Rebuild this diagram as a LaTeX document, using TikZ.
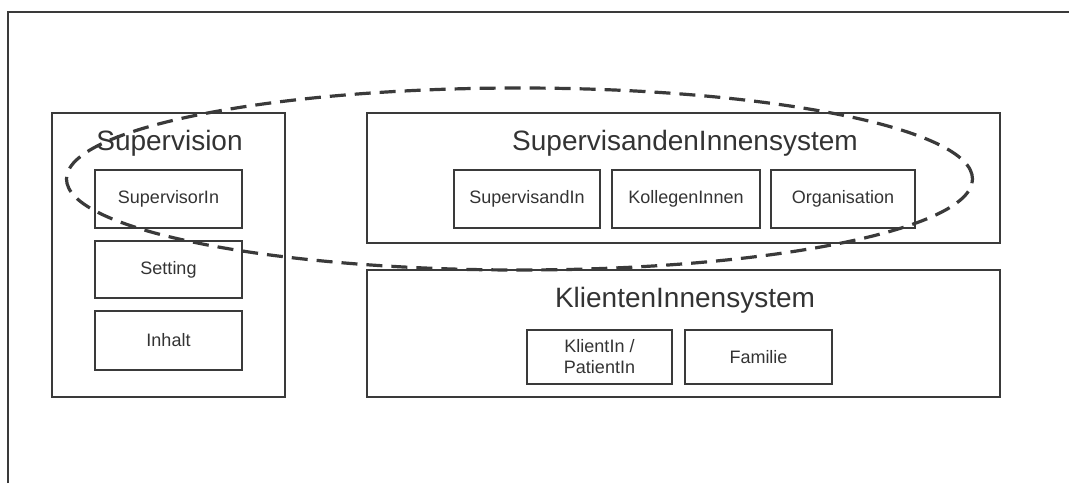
\documentclass[tikz,border=0pt]{standalone}
\usepackage{fontspec}
\setmainfont{Liberation Sans}
\begin{document}
\definecolor{ink}{HTML}{333333}
\definecolor{edge}{HTML}{3A3A3A}
\begin{tikzpicture}[x=1pt,y=-1pt,
  framebox/.style={draw=edge,line width=2pt},
  groupbox/.style={draw=edge,line width=1.3pt,minimum width=#1,inner sep=0pt,anchor=center},
  itembox/.style={draw=edge,line width=1.3pt,inner sep=0pt,text=ink,align=center,
    font=\fontsize{18}{21}\selectfont},
  grouptitle/.style={text=ink,inner sep=0pt,anchor=base,font=\fontsize{28}{32}\selectfont},
  focus/.style={draw=edge,line width=3.2pt,dash pattern=on 16pt off 9pt}]
\useasboundingbox (0,0) rectangle (1069,483);

% open frame (left and top edges)
\coordinate (fbl) at (8,483);
\coordinate (ftl) at (8,12);
\coordinate (ftr) at (1069,12);
\draw[framebox] (fbl) -- (ftl) -- (ftr);

% Supervision group
\node[groupbox=233pt,minimum height=284pt] (sup) at (168.5,255) {};
\node[grouptitle] (supT) at (169.5,150) {Supervision};
\node[itembox,minimum width=147pt,minimum height=58pt] (supv) at (168.5,199) {SupervisorIn};
\node[itembox,minimum width=147pt,minimum height=57pt] (sett) at (168.5,269.5) {Setting};
\node[itembox,minimum width=147pt,minimum height=59pt] (inh) at (168.5,340.5) {Inhalt};

% supervisees' system
\node[groupbox=633pt,minimum height=130pt] (sis) at (683.5,178) {};
\node[grouptitle] (sisT) at (685,150) {SupervisandenInnensystem};
\node[itembox,minimum width=146pt,minimum height=58pt] (svd) at (527,199) {SupervisandIn};
\node[itembox,minimum width=148pt,minimum height=58pt] (kol) at (686,199) {KollegenInnen};
\node[itembox,minimum width=144pt,minimum height=58pt] (org) at (843,199) {Organisation};

% clients' system
\node[groupbox=633pt,minimum height=127pt] (kis) at (683.5,333.5) {};
\node[grouptitle] (kisT) at (685,307) {KlientenInnensystem};
\node[itembox,minimum width=145pt,minimum height=54pt] (kli) at (599.5,357) {KlientIn /\\PatientIn};
\node[itembox,minimum width=147pt,minimum height=54pt] (fam) at (758.5,357) {Familie};

% dashed outline around supervisor and supervisees
\coordinate (ec) at (519.5,179);
\draw[focus] (ec) ellipse [x radius=453pt, y radius=91pt];
\end{tikzpicture}
\end{document}
